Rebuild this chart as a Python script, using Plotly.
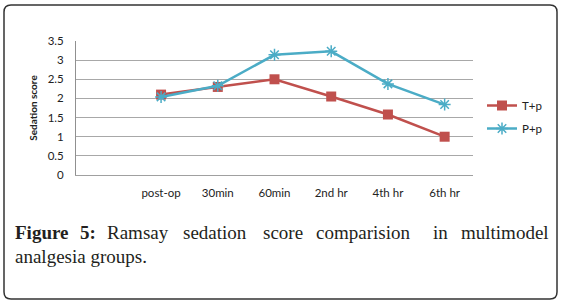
import plotly.graph_objects as go

# ---- data ----
categories = ["post-op", "30min", "60min", "2nd hr", "4th hr", "6th hr"]
t_p = [2.1, 2.3, 2.5, 2.05, 1.58, 1.0]
p_p = [2.04, 2.33, 3.14, 3.23, 2.38, 1.84]
y_ticks = [0, 0.5, 1, 1.5, 2, 2.5, 3, 3.5]
y_ticktext = ["0", "0.5", "1", "1.5", "2", "2.5", "3", "3.5"]

W, H = 565, 305
L, R, T, B = 76, 92, 41, 130
PW, PH = W - L - R, H - T - B


def X(px):
    return (px - L) / PW


def Y(py):
    return (H - B - py) / PH


fig = go.Figure()
fig.add_trace(go.Scatter(
    x=categories, y=t_p, name="T+p", mode="lines+markers", legendgroup="a",
    line=dict(color="#c0504d", width=2.5),
    marker=dict(symbol="square", size=10, color="#c0504d"),
))
fig.add_trace(go.Scatter(
    x=categories, y=p_p, name="P+p", mode="lines+markers", legendgroup="b",
    line=dict(color="#4bacc6", width=2.5),
    marker=dict(symbol="asterisk-open", size=10, line=dict(color="#4bacc6", width=1.5)),
))

tick_font = dict(family="Lato, 'Liberation Sans', sans-serif", size=11.5, color="#222")

fig.update_layout(
    width=W, height=H,
    margin=dict(l=L, r=R, t=T, b=B, pad=0),
    paper_bgcolor="white", plot_bgcolor="white",
    showlegend=True,
    legend=dict(x=X(482), y=Y(91), xanchor="left", yanchor="top",
                font=dict(family="Lato, 'Liberation Sans', sans-serif", size=11.5, color="#222"),
                tracegroupgap=4, bgcolor="rgba(0,0,0,0)"),
    xaxis=dict(
        type="category", categoryorder="array", categoryarray=[" "] + categories,
        range=[-0.5, 6.5], showgrid=False, zeroline=False,
        showline=True, linecolor="#a0a0a0", linewidth=1,
        ticks="outside", ticklen=7, tickcolor="rgba(0,0,0,0)",
        tickfont=tick_font,
    ),
    yaxis=dict(
        range=[0, 3.5], tickvals=y_ticks, ticktext=y_ticktext,
        showgrid=True, gridcolor="#a8a8a8", gridwidth=1, zeroline=False,
        showline=True, linecolor="#909090", linewidth=1,
        ticks="outside", ticklen=9, tickcolor="rgba(0,0,0,0)",
        tickfont=tick_font,
        title=dict(text="<b>Sedation score</b>", standoff=8,
                   font=dict(family="Lato, 'Liberation Sans', sans-serif", size=10, color="#222")),
    ),
)

# rounded border around the figure panel
x0, x1, y0, y1, r = 4, 557, 5, 299, 7
path = (f"M {X(x0+r)},{Y(y0)} L {X(x1-r)},{Y(y0)} Q {X(x1)},{Y(y0)} {X(x1)},{Y(y0+r)} "
        f"L {X(x1)},{Y(y1-r)} Q {X(x1)},{Y(y1)} {X(x1-r)},{Y(y1)} "
        f"L {X(x0+r)},{Y(y1)} Q {X(x0)},{Y(y1)} {X(x0)},{Y(y1-r)} "
        f"L {X(x0)},{Y(y0+r)} Q {X(x0)},{Y(y0)} {X(x0+r)},{Y(y0)} Z")
fig.add_shape(type="path", path=path, xref="paper", yref="paper",
              line=dict(color="#333", width=1.5), layer="above")

# caption (justified first line placed word by word)
cap_font = dict(family="'Liberation Serif', 'DejaVu Serif', serif", size=19, color="#231f20")
line1 = [("<b>Figure</b>", 14, "left"), ("<b>5:</b>", 79, "left"), ("Ramsay", 106, "left"),
         ("sedation", 182, "left"), ("score", 262, "left"), ("comparision", 315, "left"),
         ("in", 432, "left"), ("multimodel", 550, "right")]
for txt, px, anc in line1:
    fig.add_annotation(text=txt, x=X(px), y=Y(232), xref="paper", yref="paper",
                       xanchor=anc, yanchor="middle", showarrow=False, font=cap_font,
                       borderpad=0)
fig.add_annotation(text="analgesia groups.", x=X(14), y=Y(256), xref="paper", yref="paper",
                   xanchor="left", yanchor="middle", showarrow=False, font=cap_font,
                   borderpad=0)

fig.write_html("out.html", config={"displayModeBar": False},
               post_script="document.body.style.margin='0';document.body.style.overflow='hidden';")
